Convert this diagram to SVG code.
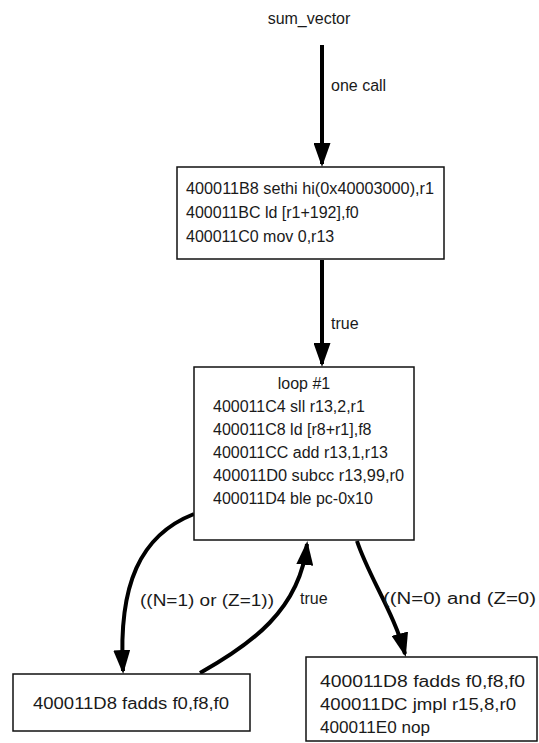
<svg xmlns="http://www.w3.org/2000/svg" width="539" height="743" viewBox="0 0 539 743">
<style>
text{font-family:"Liberation Sans",Arial,sans-serif;font-size:16px;fill:#1a1a1a}
.box{fill:#fff;stroke:#111;stroke-width:1.5}
.edge{fill:none;stroke:#000;stroke-width:4}
</style>
<defs>
<marker id="ah" markerUnits="userSpaceOnUse" markerWidth="24" markerHeight="17" refX="21" refY="8.5" orient="auto" viewBox="0 0 24 17">
<path d="M0,0 L24,8.5 L0,17 z" fill="#000"/>
</marker>
</defs>
<rect width="539" height="743" fill="#fff"/>
<g id="connectors">
<path class="edge" d="M322,45 L322,164" marker-end="url(#ah)"/>
<text x="331" y="91">one call</text>
<path class="edge" d="M322,260 L322,364" marker-end="url(#ah)"/>
<text x="331" y="329">true</text>
<path class="edge" d="M194,514 C140,535 118,585 123,671" marker-end="url(#ah)"/>
<text x="140" y="606" textLength="134" lengthAdjust="spacingAndGlyphs">((N=1) or (Z=1))</text>
<path class="edge" d="M200,673 C250,645 300,610 307,544" marker-end="url(#ah)"/>
<text x="300" y="604">true</text>
<path class="edge" d="M357,541 C368,575 395,615 405,654" marker-end="url(#ah)"/>
<text x="383" y="604" textLength="153" lengthAdjust="spacingAndGlyphs">((N=0) and (Z=0)</text>
</g>
<g id="sum_vector">
<text x="309" y="24" text-anchor="middle">sum_vector</text>
</g>
<g id="block1">
<rect class="box" x="177" y="167" width="267" height="92"/>
<text x="186" y="194" textLength="248" lengthAdjust="spacingAndGlyphs">400011B8 sethi hi(0x40003000),r1</text>
<text x="186" y="218">400011BC ld [r1+192],f0</text>
<text x="186" y="242">400011C0 mov 0,r13</text>
</g>
<g id="loop1">
<rect class="box" x="194" y="367" width="220" height="173"/>
<text x="304" y="389" text-anchor="middle">loop #1</text>
<text x="213" y="412">400011C4 sll r13,2,r1</text>
<text x="213" y="435">400011C8 ld [r8+r1],f8</text>
<text x="213" y="458">400011CC add r13,1,r13</text>
<text x="213" y="481" textLength="191" lengthAdjust="spacingAndGlyphs">400011D0 subcc r13,99,r0</text>
<text x="213" y="504">400011D4 ble pc-0x10</text>
</g>
<g id="block3">
<rect class="box" x="13" y="674" width="237" height="57"/>
<text x="33" y="709" textLength="196" lengthAdjust="spacingAndGlyphs">400011D8 fadds f0,f8,f0</text>
</g>
<g id="block4">
<rect class="box" x="306" y="657" width="231" height="84"/>
<text x="320" y="687" textLength="205" lengthAdjust="spacingAndGlyphs">400011D8 fadds f0,f8,f0</text>
<text x="320" y="710" textLength="196" lengthAdjust="spacingAndGlyphs">400011DC jmpl r15,8,r0</text>
<text x="320" y="733" textLength="110" lengthAdjust="spacingAndGlyphs">400011E0 nop</text>
</g>
</svg>
